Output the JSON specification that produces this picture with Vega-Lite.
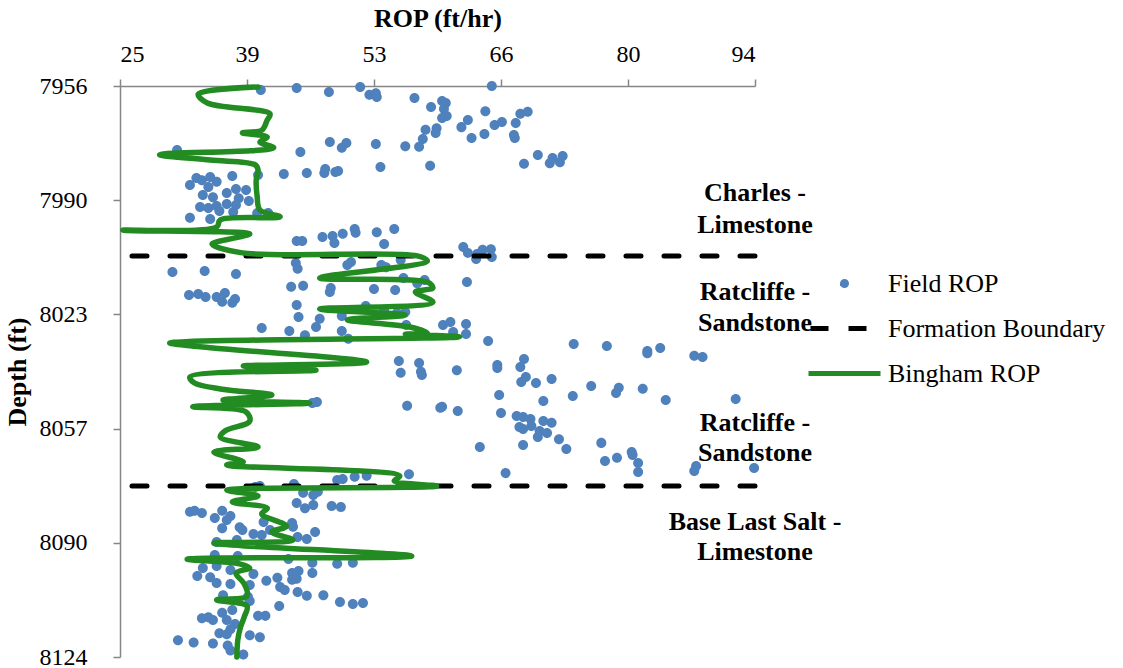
{
  "$schema": "https://vega.github.io/schema/vega-lite/v6.json",
  "width": 635,
  "height": 571,
  "autosize": {"type": "none"},
  "padding": {"left": 120, "top": 86, "right": 368, "bottom": 11},
  "background": "white",
  "config": {
    "view": {"stroke": null},
    "axis": {
      "grid": false,
      "domainColor": "#868686",
      "domainWidth": 1.5,
      "tickColor": "#868686",
      "tickWidth": 1.5,
      "tickSize": 7,
      "labelFont": "Liberation Serif",
      "labelFontSize": 24,
      "labelColor": "#000000",
      "titleFont": "Liberation Serif",
      "titleFontSize": 26,
      "titleFontWeight": "bold",
      "titleColor": "#000000"
    },
    "legend": {
      "orient": "none", "legendX": 707, "legendY": 180, "title": null, "padding": 0,
      "symbolSize": 900, "symbolStrokeWidth": 5, "symbolOpacity": 1,
      "labelFont": "Liberation Serif", "labelFontSize": 26, "labelColor": "#000000",
      "labelOffset": 26, "labelLimit": 0, "rowPadding": 14
    }
  },
  "datasets": {
    "field": [
      {"rop":40.3,"depth":7957.2},{"rop":44.2,"depth":7956.6},{"rop":47.7,"depth":7957.8},{"rop":51.1,"depth":7956.3},{"rop":52.1,"depth":7958.6},{"rop":52.8,"depth":7958.1},{"rop":52.9,"depth":7959.2},{"rop":57.0,"depth":7959.5},{"rop":65.4,"depth":7956.0},{"rop":58.8,"depth":7962.2},{"rop":60.0,"depth":7960.4},{"rop":60.4,"depth":7961.0},{"rop":60.2,"depth":7962.8},{"rop":60.0,"depth":7965.4},{"rop":60.5,"depth":7964.8},{"rop":64.7,"depth":7963.4},{"rop":62.8,"depth":7966.0},{"rop":62.1,"depth":7968.1},{"rop":65.7,"depth":7967.5},{"rop":66.5,"depth":7966.6},{"rop":68.0,"depth":7966.9},{"rop":68.5,"depth":7964.2},{"rop":69.3,"depth":7963.6},{"rop":58.2,"depth":7968.9},{"rop":59.4,"depth":7968.4},{"rop":59.3,"depth":7969.8},{"rop":63.2,"depth":7971.3},{"rop":64.6,"depth":7970.1},{"rop":67.8,"depth":7970.4},{"rop":67.9,"depth":7971.3},{"rop":57.9,"depth":7971.6},{"rop":57.5,"depth":7973.9},{"rop":56.0,"depth":7973.7},{"rop":52.8,"depth":7973.1},{"rop":49.6,"depth":7972.8},{"rop":49.1,"depth":7974.2},{"rop":47.8,"depth":7972.5},{"rop":44.6,"depth":7975.4},{"rop":31.2,"depth":7974.8},{"rop":42.8,"depth":7981.9},{"rop":45.3,"depth":7981.6},{"rop":47.3,"depth":7980.4},{"rop":47.2,"depth":7981.6},{"rop":48.4,"depth":7981.3},{"rop":48.7,"depth":7981.0},{"rop":53.3,"depth":7979.8},{"rop":58.7,"depth":7979.5},{"rop":68.9,"depth":7978.9},{"rop":70.4,"depth":7976.3},{"rop":71.7,"depth":7978.7},{"rop":72.0,"depth":7977.2},{"rop":73.1,"depth":7976.6},{"rop":72.8,"depth":7978.4},
      {"rop":37.2,"depth":7982.5},{"rop":40.0,"depth":7982.2},{"rop":33.3,"depth":7983.1},{"rop":32.6,"depth":7985.1},{"rop":33.9,"depth":7983.7},{"rop":34.8,"depth":7982.8},{"rop":35.5,"depth":7984.2},{"rop":34.6,"depth":7985.7},{"rop":34.0,"depth":7988.1},{"rop":35.1,"depth":7988.7},{"rop":36.6,"depth":7987.5},{"rop":37.6,"depth":7986.3},{"rop":38.7,"depth":7986.6},{"rop":39.0,"depth":7989.8},{"rop":37.9,"depth":7989.0},{"rop":33.7,"depth":7991.6},{"rop":34.6,"depth":7991.9},{"rop":35.5,"depth":7991.3},{"rop":35.8,"depth":7992.8},{"rop":36.6,"depth":7990.7},{"rop":37.6,"depth":7991.0},{"rop":37.3,"depth":7993.1},{"rop":32.6,"depth":7994.8},{"rop":34.8,"depth":7995.1},{"rop":39.9,"depth":7993.4},{"rop":41.1,"depth":7993.4},
      {"rop":44.2,"depth":8001.6},{"rop":44.8,"depth":8001.6},{"rop":47.0,"depth":8000.4},{"rop":48.1,"depth":8000.1},{"rop":48.3,"depth":8002.2},{"rop":49.2,"depth":7999.5},{"rop":50.5,"depth":7998.1},{"rop":50.6,"depth":7999.2},{"rop":52.9,"depth":7999.0},{"rop":54.8,"depth":7998.1},{"rop":53.7,"depth":8002.5},{"rop":62.3,"depth":8003.4},{"rop":62.8,"depth":8005.1},{"rop":63.8,"depth":8005.4},{"rop":63.7,"depth":8006.9},{"rop":64.4,"depth":8004.2},{"rop":65.3,"depth":8004.0},{"rop":65.4,"depth":8006.3},
      {"rop":30.7,"depth":8010.7},{"rop":34.2,"depth":8010.4},{"rop":37.6,"depth":8011.3},{"rop":44.1,"depth":8008.1},{"rop":44.3,"depth":8009.8},{"rop":49.7,"depth":8008.7},{"rop":50.1,"depth":8007.8},{"rop":53.4,"depth":8008.7},{"rop":53.9,"depth":8009.3},{"rop":55.5,"depth":8007.2},{"rop":32.5,"depth":8017.5},{"rop":33.5,"depth":8017.2},{"rop":34.3,"depth":8018.1},{"rop":35.5,"depth":8018.1},{"rop":36.4,"depth":8016.9},{"rop":36.1,"depth":8019.5},{"rop":37.2,"depth":8019.8},{"rop":37.5,"depth":8018.7},{"rop":43.6,"depth":8015.1},{"rop":44.9,"depth":8014.8},{"rop":47.9,"depth":8015.4},{"rop":47.8,"depth":8016.6},{"rop":52.6,"depth":8015.7},{"rop":54.9,"depth":8016.0},{"rop":55.8,"depth":8012.5},{"rop":57.3,"depth":8014.0},{"rop":58.1,"depth":8013.1},{"rop":62.7,"depth":8013.7},{"rop":44.2,"depth":8020.4},{"rop":44.4,"depth":8024.0},{"rop":46.7,"depth":8024.5},{"rop":49.1,"depth":8023.7},{"rop":51.7,"depth":8020.7},{"rop":53.7,"depth":8021.9},{"rop":55.1,"depth":8022.8},{"rop":56.0,"depth":8022.5},{"rop":40.4,"depth":8027.2},{"rop":43.4,"depth":8028.1},{"rop":45.1,"depth":8029.3},{"rop":46.3,"depth":8026.9},{"rop":49.1,"depth":8028.1},{"rop":49.8,"depth":8030.4},{"rop":56.1,"depth":8026.3},{"rop":60.1,"depth":8026.3},{"rop":60.9,"depth":8025.4},{"rop":61.2,"depth":8028.4},{"rop":62.6,"depth":8026.0},{"rop":62.6,"depth":8029.0},{"rop":65.0,"depth":8031.0},
      {"rop":74.3,"depth":8031.9},{"rop":77.9,"depth":8032.5},{"rop":82.3,"depth":8034.0},{"rop":82.3,"depth":8034.6},{"rop":83.7,"depth":8033.1},{"rop":87.4,"depth":8035.4},{"rop":88.3,"depth":8035.7},{"rop":55.3,"depth":8036.9},{"rop":57.5,"depth":8037.5},{"rop":57.7,"depth":8040.1},{"rop":57.8,"depth":8041.0},{"rop":55.5,"depth":8040.4},{"rop":61.6,"depth":8039.6},{"rop":66.0,"depth":8038.1},{"rop":66.0,"depth":8039.0},{"rop":68.9,"depth":8036.3},{"rop":68.5,"depth":8038.7},{"rop":69.1,"depth":8041.6},{"rop":68.6,"depth":8043.1},{"rop":70.2,"depth":8043.4},{"rop":71.9,"depth":8042.2},{"rop":66.2,"depth":8046.9},{"rop":71.0,"depth":8048.7},{"rop":74.2,"depth":8047.2},{"rop":76.2,"depth":8044.3},{"rop":78.9,"depth":8046.3},{"rop":79.2,"depth":8044.8},{"rop":81.8,"depth":8045.1},{"rop":84.3,"depth":8048.4},{"rop":91.9,"depth":8048.1},{"rop":56.2,"depth":8050.1},{"rop":59.8,"depth":8050.7},{"rop":60.0,"depth":8050.4},{"rop":61.7,"depth":8051.6},{"rop":66.4,"depth":8052.2},{"rop":68.1,"depth":8053.1},{"rop":68.8,"depth":8053.4},{"rop":69.6,"depth":8054.0},{"rop":71.0,"depth":8054.6},{"rop":71.9,"depth":8055.1},{"rop":68.4,"depth":8056.3},{"rop":68.8,"depth":8056.9},{"rop":69.7,"depth":8056.0},{"rop":70.6,"depth":8057.5},{"rop":71.4,"depth":8058.1},{"rop":70.4,"depth":8059.3},{"rop":72.7,"depth":8059.9},{"rop":73.5,"depth":8062.8},{"rop":68.8,"depth":8061.6},{"rop":64.1,"depth":8062.2},{"rop":77.3,"depth":8061.0},{"rop":77.7,"depth":8066.3},{"rop":79.0,"depth":8065.4},{"rop":80.6,"depth":8063.7},{"rop":80.7,"depth":8064.6},{"rop":81.3,"depth":8066.9},{"rop":81.3,"depth":8069.6},{"rop":87.6,"depth":8067.8},{"rop":87.4,"depth":8069.3},{"rop":93.9,"depth":8068.4},{"rop":56.4,"depth":8070.2},{"rop":66.9,"depth":8069.9},{"rop":45.9,"depth":8049.3},{"rop":46.4,"depth":8049.0},
      {"rop":48.6,"depth":8071.9},{"rop":49.2,"depth":8071.6},{"rop":50.5,"depth":8071.0},{"rop":51.8,"depth":8070.7},{"rop":39.7,"depth":8074.0},{"rop":40.2,"depth":8073.7},{"rop":43.9,"depth":8073.1},
      {"rop":44.9,"depth":8075.7},{"rop":46.0,"depth":8076.3},{"rop":46.5,"depth":8075.4},{"rop":44.2,"depth":8078.7},{"rop":45.1,"depth":8080.2},{"rop":46.0,"depth":8079.3},{"rop":48.0,"depth":8079.6},{"rop":49.0,"depth":8079.9},{"rop":32.6,"depth":8081.3},{"rop":33.1,"depth":8081.0},{"rop":33.9,"depth":8081.6},{"rop":35.3,"depth":8083.1},{"rop":36.1,"depth":8081.0},{"rop":37.0,"depth":8082.5},{"rop":36.6,"depth":8083.7},{"rop":36.1,"depth":8086.1},{"rop":38.0,"depth":8085.8},{"rop":38.3,"depth":8086.6},{"rop":40.6,"depth":8084.3},{"rop":41.3,"depth":8086.6},{"rop":43.7,"depth":8084.6},{"rop":43.8,"depth":8085.7},{"rop":39.5,"depth":8087.8},{"rop":40.4,"depth":8088.1},{"rop":44.3,"depth":8088.7},{"rop":45.3,"depth":8089.3},{"rop":46.2,"depth":8087.2},{"rop":35.5,"depth":8090.2},{"rop":37.7,"depth":8089.6},{"rop":35.3,"depth":8094.0},{"rop":37.8,"depth":8094.3},{"rop":43.3,"depth":8095.2},{"rop":45.9,"depth":8096.3},{"rop":48.6,"depth":8096.6},{"rop":50.3,"depth":8096.3},{"rop":34.0,"depth":8097.8},{"rop":33.4,"depth":8100.2},{"rop":34.8,"depth":8100.5},{"rop":35.5,"depth":8102.2},{"rop":37.0,"depth":8102.5},{"rop":37.0,"depth":8098.4},{"rop":35.5,"depth":8097.2},{"rop":39.5,"depth":8099.6},{"rop":39.1,"depth":8102.8},{"rop":40.9,"depth":8101.6},{"rop":42.1,"depth":8100.7},{"rop":43.7,"depth":8099.3},{"rop":44.4,"depth":8098.7},{"rop":43.7,"depth":8101.3},{"rop":44.2,"depth":8101.0},{"rop":45.9,"depth":8099.3},{"rop":42.4,"depth":8103.4},{"rop":42.9,"depth":8104.3},{"rop":44.3,"depth":8104.9},{"rop":45.3,"depth":8106.0},{"rop":47.1,"depth":8105.8},{"rop":48.9,"depth":8107.8},{"rop":50.3,"depth":8108.4},{"rop":51.4,"depth":8108.1},{"rop":42.3,"depth":8109.0},{"rop":36.2,"depth":8105.8},{"rop":38.9,"depth":8106.3},{"rop":39.1,"depth":8107.5},{"rop":36.1,"depth":8111.0},{"rop":37.2,"depth":8110.2},{"rop":33.9,"depth":8112.6},{"rop":34.6,"depth":8112.3},{"rop":35.1,"depth":8113.1},{"rop":36.6,"depth":8113.1},{"rop":37.5,"depth":8114.3},{"rop":37.0,"depth":8115.8},{"rop":40.0,"depth":8111.9},{"rop":40.8,"depth":8111.9},{"rop":35.8,"depth":8117.0},{"rop":39.1,"depth":8117.6},{"rop":40.2,"depth":8118.2},{"rop":31.3,"depth":8119.1},{"rop":33.0,"depth":8119.7},{"rop":35.1,"depth":8120.0},{"rop":36.7,"depth":8120.6},{"rop":37.0,"depth":8122.1},{"rop":38.4,"depth":8123.3},{"rop":36.6,"depth":8117.3}
    ],
    "bingham": [
      {"depth":7956.3,"rop":40.0},{"depth":7958.4,"rop":33.5},{"depth":7961.0,"rop":34.5},{"depth":7964.2,"rop":41.3},{"depth":7966.0,"rop":41.0},{"depth":7969.0,"rop":40.4},{"depth":7969.8,"rop":38.3},{"depth":7971.0,"rop":41.0},{"depth":7972.5,"rop":40.2},{"depth":7974.2,"rop":41.7},{"depth":7976.2,"rop":29.3},{"depth":7977.8,"rop":34.8},{"depth":7979.2,"rop":39.7},{"depth":7980.7,"rop":40.0},{"depth":7983.7,"rop":39.8},{"depth":7988.4,"rop":39.9},{"depth":7992.5,"rop":40.2},{"depth":7994.5,"rop":42.4},{"depth":7995.4,"rop":35.9},{"depth":7997.5,"rop":35.5},{"depth":7998.4,"rop":25.3},{"depth":7999.5,"rop":39.1},{"depth":8000.7,"rop":37.5},{"depth":8002.5,"rop":35.0},{"depth":8005.1,"rop":38.3},{"depth":8006.0,"rop":57.3},{"depth":8007.5,"rop":58.4},{"depth":8012.5,"rop":46.7},{"depth":8013.7,"rop":58.4},{"depth":8015.4,"rop":59.0},{"depth":8016.6,"rop":57.1},{"depth":8019.6,"rop":59.0},{"depth":8021.6,"rop":46.7},{"depth":8023.4,"rop":56.0},{"depth":8024.8,"rop":49.7},{"depth":8026.9,"rop":56.5},{"depth":8028.7,"rop":58.4},{"depth":8029.0,"rop":56.0},{"depth":8029.8,"rop":61.9},{"depth":8031.6,"rop":30.4},{"depth":8032.8,"rop":34.0},{"depth":8037.2,"rop":51.8},{"depth":8038.4,"rop":38.4},{"depth":8039.6,"rop":46.3},{"depth":8041.6,"rop":32.6},{"depth":8043.4,"rop":33.1},{"depth":8045.2,"rop":36.1},{"depth":8046.9,"rop":41.5},{"depth":8048.4,"rop":36.2},{"depth":8049.3,"rop":45.6},{"depth":8050.4,"rop":32.9},{"depth":8051.9,"rop":38.7},{"depth":8054.6,"rop":39.1},{"depth":8057.5,"rop":36.4},{"depth":8059.3,"rop":35.9},{"depth":8062.2,"rop":40.0},{"depth":8063.7,"rop":35.2},{"depth":8066.6,"rop":38.4},{"depth":8067.5,"rop":36.6},{"depth":8070.7,"rop":55.4},{"depth":8072.2,"rop":54.8},{"depth":8073.7,"rop":59.4},{"depth":8074.9,"rop":36.6},{"depth":8076.6,"rop":40.0},{"depth":8078.4,"rop":37.2},{"depth":8080.2,"rop":41.0},{"depth":8081.9,"rop":40.4},{"depth":8085.5,"rop":43.1},{"depth":8087.2,"rop":41.5},{"depth":8089.6,"rop":43.8},{"depth":8090.5,"rop":35.2},{"depth":8094.3,"rop":56.7},{"depth":8095.2,"rop":32.3},{"depth":8096.6,"rop":38.0},{"depth":8097.8,"rop":39.1},{"depth":8099.3,"rop":37.6},{"depth":8102.5,"rop":38.5},{"depth":8106.1,"rop":38.8},{"depth":8107.2,"rop":35.5},{"depth":8109.0,"rop":38.8},{"depth":8112.2,"rop":38.5},{"depth":8115.2,"rop":38.1},{"depth":8119.0,"rop":37.8},{"depth":8124.0,"rop":37.7}
    ],
    "boundary": [{"depth": 8006.0}, {"depth": 8073.7}],
    "labels": [
      {"text": "Charles -", "depth": 7987.5},
      {"text": "Limestone", "depth": 7996.9},
      {"text": "Ratcliffe -", "depth": 8016.6},
      {"text": "Sandstone", "depth": 8025.7},
      {"text": "Ratcliffe -", "depth": 8055.1},
      {"text": "Sandstone", "depth": 8064.0},
      {"text": "Base Last Salt -", "depth": 8084.3},
      {"text": "Limestone", "depth": 8093.1}
    ]
  },
  "layer": [
    {
      "data": {"name": "field"},
      "mark": {"type": "point", "filled": true, "size": 5625, "opacity": 1, "strokeWidth": 0},
      "encoding": {
        "x": {"field": "rop", "type": "quantitative",
              "scale": {"domain": [25, 94], "nice": false, "zero": false},
              "axis": {"orient": "top", "values": [25, 38.8, 52.6, 66.4, 80.2, 94], "format": ".0f", "title": "ROP (ft/hr)", "labelPadding": 13, "titlePadding": 11}},
        "y": {"field": "depth", "type": "quantitative",
              "scale": {"domain": [7956, 8124], "nice": false, "zero": false, "reverse": true},
              "axis": {"values": [7956, 7989.6, 8023.2, 8056.8, 8090.4, 8124], "format": ".0f", "title": "Depth (ft)", "labelPadding": 26, "titlePadding": 9}},
        "color": {"datum": "Field ROP", "type": "nominal",
                  "scale": {"domain": ["Field ROP", "Formation Boundary", "Bingham ROP"], "range": ["#4F81BD", "#000000", "#228B22"]}},
        "shape": {"datum": "Field ROP", "type": "nominal",
                  "scale": {"domain": ["Field ROP", "Formation Boundary", "Bingham ROP"],
                            "range": ["M-2.4,0M2.4,0M-0.1333,0a0.1333,0.1333 0 1,0 0.2667,0a0.1333,0.1333 0 1,0 -0.2667,0Z",
                                      "M-2.4,0M2.4,0M-2.267,0H-1.067M0.267,0H1.467",
                                      "M-2.4,0H2.4"]}}
      }
    },
    {
      "data": {"name": "boundary"},
      "mark": {"type": "rule", "strokeWidth": 5, "strokeDash": [15, 23], "strokeCap": "round"},
      "encoding": {
        "y": {"field": "depth", "type": "quantitative"},
        "color": {"datum": "Formation Boundary", "type": "nominal",
                  "scale": {"domain": ["Field ROP", "Formation Boundary", "Bingham ROP"], "range": ["#4F81BD", "#000000", "#228B22"]}}
      }
    },
    {
      "data": {"name": "bingham"},
      "mark": {"type": "line", "strokeWidth": 5.5, "strokeJoin": "round", "strokeCap": "round", "interpolate": "catmull-rom"},
      "encoding": {
        "x": {"field": "rop", "type": "quantitative"},
        "y": {"field": "depth", "type": "quantitative"},
        "order": {"field": "depth", "type": "quantitative"},
        "color": {"datum": "Bingham ROP", "type": "nominal",
                  "scale": {"domain": ["Field ROP", "Formation Boundary", "Bingham ROP"], "range": ["#4F81BD", "#000000", "#228B22"]}}
      }
    },
    {
      "data": {"name": "labels"},
      "mark": {"type": "text", "font": "Liberation Serif", "fontWeight": "bold", "fontSize": 26, "align": "center", "baseline": "middle", "color": "#000000"},
      "encoding": {
        "x": {"datum": 94, "type": "quantitative"},
        "y": {"field": "depth", "type": "quantitative"},
        "text": {"field": "text", "type": "nominal"}
      }
    }
  ]
}
